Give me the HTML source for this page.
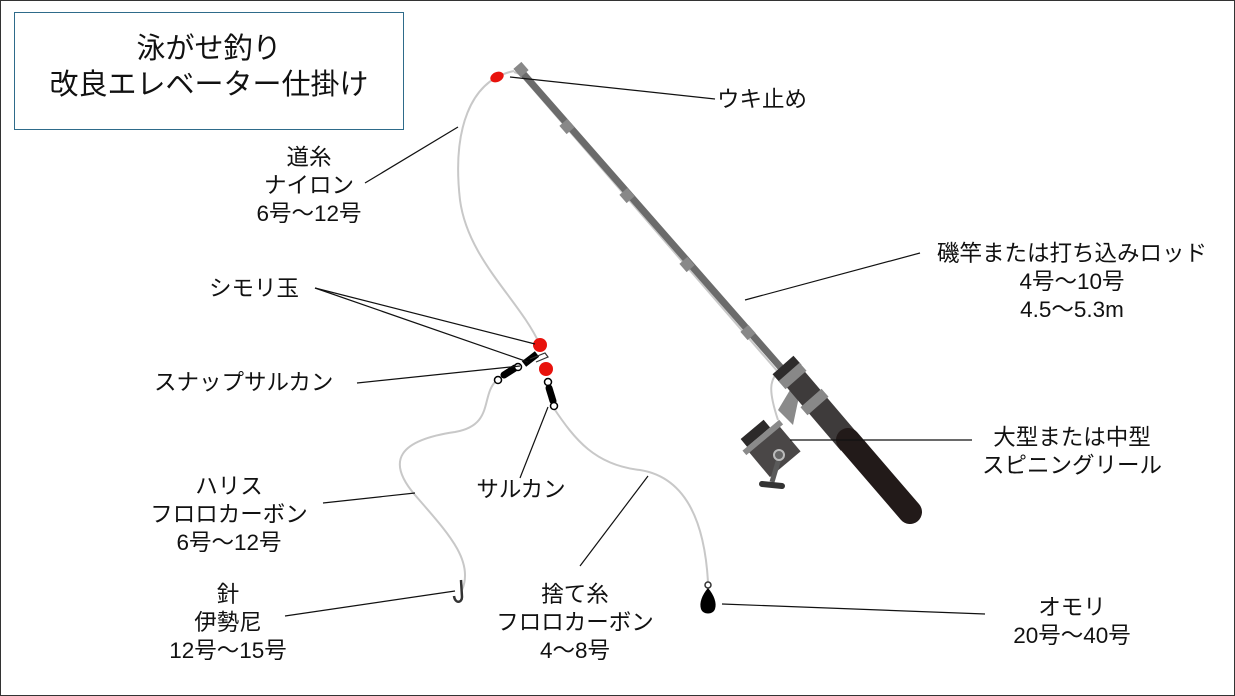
<!DOCTYPE html>
<html><head><meta charset="utf-8"><style>
html,body{margin:0;padding:0;background:#fff;}
svg{display:block;}
text{font-family:"Liberation Sans","Noto Sans CJK JP",sans-serif;fill:#111;}
</style></head><body>
<svg width="1235" height="696" viewBox="0 0 1235 696" xmlns="http://www.w3.org/2000/svg">
<rect x="0.5" y="0.5" width="1234" height="695" fill="#fff" stroke="#333" stroke-width="1"/>
<rect x="14.5" y="12.5" width="389" height="117" fill="#fff" stroke="#2e6b8a" stroke-width="1"/>
<text x="209" y="58" font-size="29" text-anchor="middle">泳がせ釣り</text>
<text x="209" y="94" font-size="29" text-anchor="middle">改良エレベーター仕掛け</text>

<!-- rod line guide -->
<path d="M514,72 L520,74 L778,372 C770,380 768,390 778,420" fill="none" stroke="#c8c8c8" stroke-width="2"/>
<!-- rod -->
<line x1="520" y1="70" x2="790" y2="378" stroke="#6b6b6b" stroke-width="7" stroke-linecap="round"/>
<g stroke="#888" stroke-width="11">
<line x1="517" y1="73" x2="525" y2="66"/>
<line x1="563" y1="130" x2="571" y2="123"/>
<line x1="623" y1="199" x2="631" y2="192"/>
<line x1="683" y1="268" x2="691" y2="261"/>
<line x1="744" y1="336" x2="752" y2="329"/>
</g>
<!-- reel -->
<path d="M778,410 L790,390 L800,392 L793,425 Z" fill="#8a8a8a"/>
<g transform="translate(775,452) rotate(-40)">
<rect x="-20" y="-20" width="40" height="36" fill="#4a4747"/>
<rect x="-24" y="-22" width="48" height="6" fill="#8a8a8a"/>
<rect x="-18" y="-32" width="30" height="10" fill="#2c2a2a"/>
</g>
<line x1="780" y1="455" x2="772" y2="482" stroke="#5a5a5a" stroke-width="5"/>
<line x1="762" y1="484" x2="782" y2="486" stroke="#333" stroke-width="6" stroke-linecap="round"/>
<circle cx="779" cy="455" r="5" fill="#666" stroke="#bbb" stroke-width="2"/>
<!-- grip -->
<line x1="786" y1="368" x2="850" y2="443" stroke="#3e3b3b" stroke-width="24" stroke-linecap="butt"/>
<line x1="848" y1="440" x2="910" y2="512" stroke="#221a19" stroke-width="24" stroke-linecap="round"/>
<line x1="783" y1="365" x2="791" y2="374" stroke="#2d2b2b" stroke-width="28"/>
<line x1="789" y1="372" x2="796" y2="380" stroke="#888" stroke-width="28"/>
<line x1="811" y1="398" x2="818" y2="406" stroke="#888" stroke-width="28"/>

<!-- main line -->
<path d="M514,71 C470,80 452,130 460,200 C468,260 520,300 540,345" fill="none" stroke="#c8c8c8" stroke-width="2"/>
<ellipse cx="497" cy="77" rx="7" ry="5" transform="rotate(-25 497 77)" fill="#e8120c"/>
<!-- harisu -->
<path d="M497,380 C480,395 495,425 455,432 C400,440 385,460 415,495 C445,530 475,560 462,590" fill="none" stroke="#c8c8c8" stroke-width="2"/>
<!-- sute ito -->
<path d="M553,407 C575,440 595,465 640,470 C690,478 705,530 708,582" fill="none" stroke="#c8c8c8" stroke-width="2"/>
<!-- hook -->
<path d="M461,580 L462,597 C462,603 455,604 454,596" fill="none" stroke="#333" stroke-width="2.5"/>
<!-- sinker -->
<circle cx="708" cy="585" r="3" fill="#fff" stroke="#333" stroke-width="1.5"/>
<path d="M708,588 C702,595 699,603 701,609 C703,615 713,615 715,609 C717,603 714,595 708,588 Z" fill="#000"/>

<!-- swivels -->
<line x1="524" y1="364" x2="537" y2="354" stroke="#000" stroke-width="7"/>
<path d="M530,359 L545,353 L548,357 L536,362" fill="none" stroke="#333" stroke-width="1.2"/>
<line x1="504" y1="375" x2="515" y2="368" stroke="#000" stroke-width="7" stroke-linecap="round"/>
<circle cx="518" cy="367" r="3.5" fill="#fff" stroke="#000" stroke-width="1.5"/>
<circle cx="498" cy="380" r="3.5" fill="#fff" stroke="#000" stroke-width="1.5"/>
<circle cx="540" cy="345" r="7" fill="#e8120c"/>
<circle cx="546" cy="369" r="7" fill="#e8120c"/>
<circle cx="548" cy="382" r="3.5" fill="#fff" stroke="#000" stroke-width="1.5"/>
<line x1="549" y1="388" x2="553" y2="401" stroke="#000" stroke-width="7" stroke-linecap="round"/>
<circle cx="554" cy="406" r="3.5" fill="#fff" stroke="#000" stroke-width="1.5"/>

<!-- leader lines -->
<g stroke="#111" stroke-width="1.2">
<line x1="510" y1="77" x2="715" y2="99"/>
<line x1="365" y1="183" x2="458" y2="127"/>
<line x1="315" y1="288" x2="535" y2="344"/>
<line x1="315" y1="288" x2="528" y2="362"/>
<line x1="357" y1="383" x2="520" y2="366"/>
<line x1="520" y1="478" x2="548" y2="407"/>
<line x1="323" y1="503" x2="415" y2="493"/>
<line x1="285" y1="616" x2="455" y2="591"/>
<line x1="580" y1="566" x2="648" y2="476"/>
<line x1="722" y1="604" x2="985" y2="614"/>
<line x1="745" y1="300" x2="920" y2="253"/>
<line x1="790" y1="440" x2="972" y2="440"/>
</g>

<g font-size="22.5">
<text x="717" y="107">ウキ止め</text>
<text x="309" y="165" text-anchor="middle">道糸</text>
<text x="309" y="193" text-anchor="middle">ナイロン</text>
<text x="309" y="221" text-anchor="middle">6号〜12号</text>
<text x="1072" y="261" text-anchor="middle">磯竿または打ち込みロッド</text>
<text x="1072" y="289" text-anchor="middle">4号〜10号</text>
<text x="1072" y="317" text-anchor="middle">4.5〜5.3m</text>
<text x="209" y="296">シモリ玉</text>
<text x="154" y="390">スナップサルカン</text>
<text x="1072" y="445" text-anchor="middle">大型または中型</text>
<text x="1072" y="473" text-anchor="middle">スピニングリール</text>
<text x="521" y="497" text-anchor="middle">サルカン</text>
<text x="229" y="494" text-anchor="middle">ハリス</text>
<text x="229" y="522" text-anchor="middle">フロロカーボン</text>
<text x="229" y="550" text-anchor="middle">6号〜12号</text>
<text x="228" y="602" text-anchor="middle">針</text>
<text x="228" y="630" text-anchor="middle">伊勢尼</text>
<text x="228" y="658" text-anchor="middle">12号〜15号</text>
<text x="575" y="602" text-anchor="middle">捨て糸</text>
<text x="575" y="630" text-anchor="middle">フロロカーボン</text>
<text x="575" y="658" text-anchor="middle">4〜8号</text>
<text x="1072" y="615" text-anchor="middle">オモリ</text>
<text x="1072" y="643" text-anchor="middle">20号〜40号</text>
</g>
</svg>
</body></html>
